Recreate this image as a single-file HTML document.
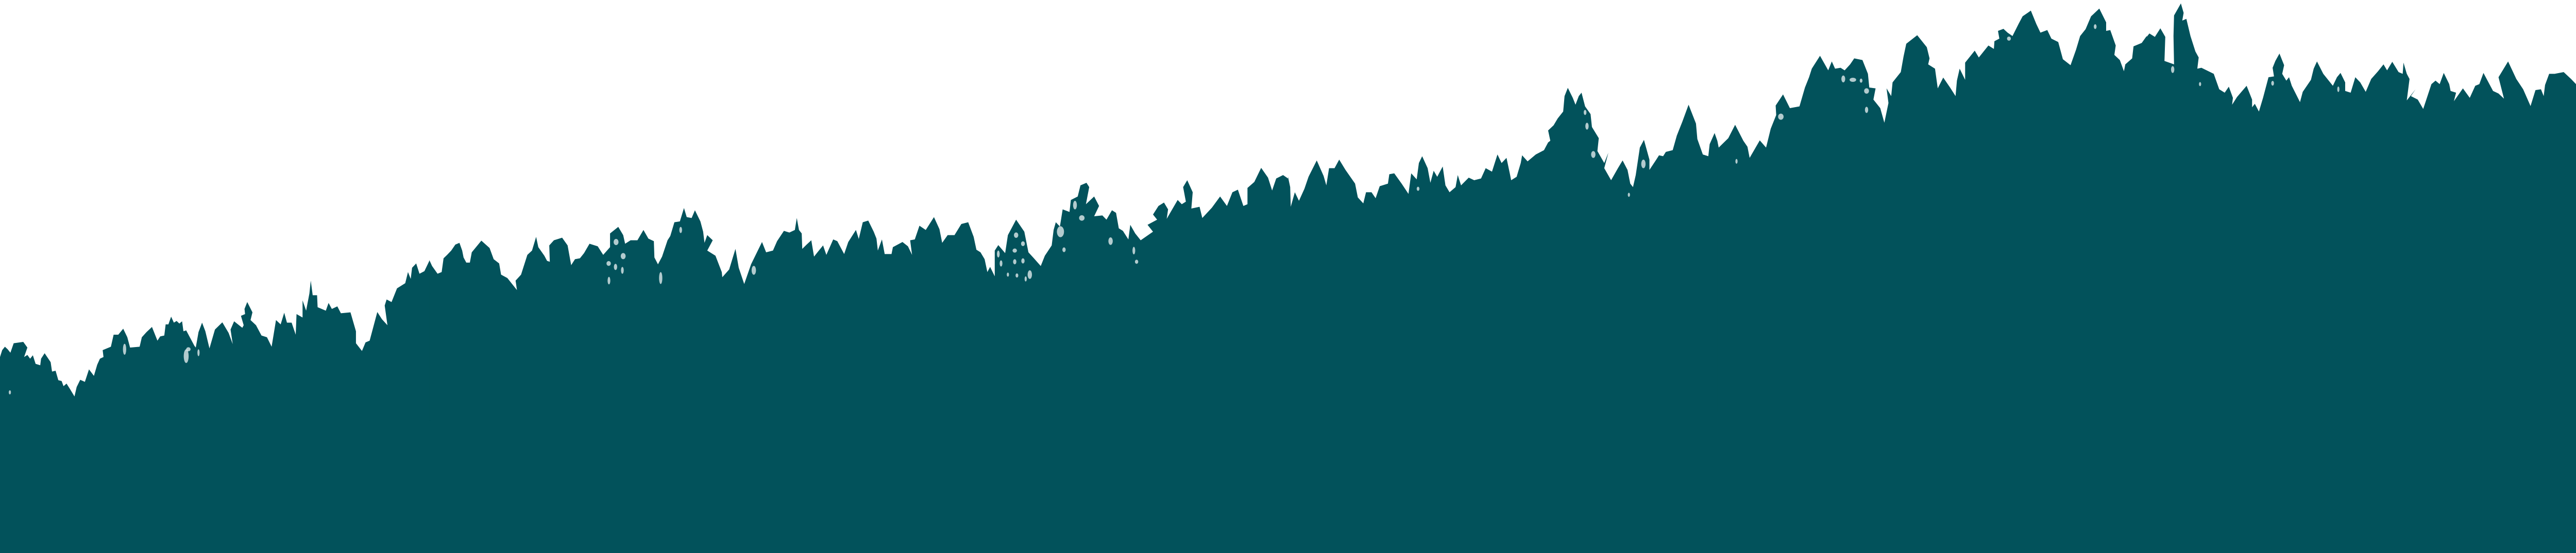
<!DOCTYPE html>
<html lang="en">
<head>
<meta charset="utf-8">
<title>Forest treeline silhouette</title>
<style>
html,body{margin:0;padding:0;background:#fff;width:100%;height:100%;overflow:hidden}
svg{display:block;position:fixed;left:0;top:0;width:100vw;height:100vh}
.f{fill:#02525b}
.h{fill:#fff;opacity:.7}
</style>
</head>
<body>
<svg xmlns="http://www.w3.org/2000/svg" viewBox="0 0 7200 1074" preserveAspectRatio="none">
<rect x="0" y="0" width="7200" height="1074" fill="#ffffff"/>
<rect x="0" y="780" width="7200" height="294" class="f"/>

<g transform="translate(0,350) scale(0.765306,0.333333)">
<polygon class="f" points="0,1030 8,990 18,970 28,985 38,1005 50,950 85,942 100,975 88,1030 100,1018 110,1040 120,1020 130,1070 147,1078 150,1040 163,1008 185,1060 190,1115 203,1110 213,1165 225,1170 232,1200 243,1185 255,1215 272,1260 280,1205 293,1163 310,1175 325,1102 343,1140 355,1075 365,1040 378,1030 375,990 405,970 415,900 432,900 450,865 465,915 475,975 510,970 518,915 535,885 555,855 575,935 585,910 600,905 605,840 615,840 625,795 635,830 645,820 655,835 665,822 670,880 680,875 695,920 710,965 715,975 725,885 738,830 750,880 765,980 785,870 812,828 835,890 850,955 842,870 855,822 885,860 890,845 880,790 895,780 893,750 903,710 922,770 915,815 935,845 955,905 975,915 992,970 1008,815 1025,840 1038,772 1048,830 1065,830 1080,900 1083,780 1105,800 1105,700 1118,760 1130,660 1135,585 1142,670 1158,670 1160,740 1190,760 1200,715 1212,750 1232,735 1245,775 1280,770 1300,880 1300,950 1322,995 1335,945 1350,935 1378,768 1395,810 1415,845 1405,730 1412,695 1430,710 1450,630 1480,600 1490,535 1500,575 1505,510 1520,485 1532,545 1550,530 1568,470 1572,510 1572,1400 0,1400"/>
<ellipse class="h" cx="455" cy="985" rx="6" ry="32"/>
<ellipse class="h" cx="680" cy="1025" rx="9" ry="40"/>
<ellipse class="h" cx="688" cy="985" rx="8" ry="12"/>
<ellipse class="h" cx="725" cy="1005" rx="4" ry="20"/>
<ellipse class="h" cx="36" cy="1236" rx="4" ry="12"/>
</g>

<g transform="translate(1200,250) scale(0.765306,0.333333)">
<polygon class="f" points="0,765 10,800 30,845 45,835 52,755 65,735 80,710 95,675 110,665 120,710 125,750 135,780 148,780 155,720 190,652 220,695 235,760 255,785 262,850 285,870 320,940 315,885 335,850 345,800 358,735 375,710 390,630 398,690 420,740 430,770 440,775 438,680 455,650 485,635 505,680 518,795 532,760 550,755 565,725 585,670 615,685 635,735 660,690 660,610 690,572 708,620 715,670 735,650 760,650 782,590 800,640 820,655 822,750 835,790 850,745 870,650 880,625 895,545 915,540 930,462 940,515 958,520 970,475 990,540 1000,600 1005,665 1015,620 1035,650 1015,710 1045,740 1068,835 1070,865 1095,820 1118,700 1130,810 1150,905 1175,790 1215,660 1230,720 1255,710 1270,655 1295,595 1315,605 1335,590 1342,520 1350,590 1360,610 1362,700 1378,675 1395,650 1405,745 1420,715 1438,680 1450,735 1475,645 1490,655 1515,730 1530,660 1558,590 1568,640 1572,680 1572,1700 0,1700"/>
<ellipse class="h" cx="708" cy="742" rx="9" ry="18"/>
<ellipse class="h" cx="682" cy="660" rx="9" ry="18"/>
<ellipse class="h" cx="655" cy="785" rx="8" ry="14"/>
<ellipse class="h" cx="680" cy="805" rx="6" ry="18"/>
<ellipse class="h" cx="705" cy="825" rx="5" ry="20"/>
<ellipse class="h" cx="656" cy="885" rx="5" ry="22"/>
<ellipse class="h" cx="845" cy="870" rx="6" ry="35"/>
<ellipse class="h" cx="1185" cy="825" rx="8" ry="26"/>
<ellipse class="h" cx="918" cy="590" rx="5" ry="18"/>
</g>

<g transform="translate(2400,200) scale(0.765306,0.333333)">
<polygon class="f" points="0,795 15,695 35,685 55,750 65,790 70,860 85,795 95,880 120,880 125,840 160,810 180,835 195,885 188,800 205,795 222,715 245,740 275,665 295,735 305,815 325,770 350,770 375,705 400,695 420,780 430,855 445,870 460,910 470,985 480,955 497,1010 497,860 510,828 535,875 545,770 575,680 605,750 620,870 640,905 665,950 680,890 705,830 712,740 720,695 735,720 745,620 770,635 775,565 800,545 810,480 832,465 842,490 830,590 860,545 878,600 860,660 890,655 905,680 925,625 940,640 950,730 965,745 985,795 992,710 1010,760 1030,800 1075,750 1055,710 1090,680 1075,650 1095,600 1115,580 1130,620 1125,675 1165,565 1180,590 1195,575 1185,490 1200,450 1220,520 1215,615 1245,605 1255,670 1290,610 1320,545 1345,600 1365,520 1385,505 1405,600 1420,590 1420,495 1445,460 1470,378 1495,435 1510,510 1525,440 1550,420 1568,440 1572,500 1572,1900 0,1900"/>
<ellipse class="h" cx="625" cy="1000" rx="8" ry="25"/>
<ellipse class="h" cx="610" cy="1025" rx="4" ry="15"/>
<ellipse class="h" cx="600" cy="920" rx="6" ry="15"/>
<ellipse class="h" cx="570" cy="925" rx="6" ry="15"/>
<ellipse class="h" cx="570" cy="860" rx="8" ry="12"/>
<ellipse class="h" cx="600" cy="820" rx="7" ry="14"/>
<ellipse class="h" cx="520" cy="935" rx="5" ry="18"/>
<ellipse class="h" cx="510" cy="880" rx="5" ry="20"/>
<ellipse class="h" cx="575" cy="770" rx="8" ry="16"/>
<ellipse class="h" cx="578" cy="1005" rx="5" ry="12"/>
<ellipse class="h" cx="545" cy="1000" rx="4" ry="12"/>
<ellipse class="h" cx="750" cy="855" rx="6" ry="14"/>
<ellipse class="h" cx="920" cy="805" rx="8" ry="22"/>
<ellipse class="h" cx="1015" cy="925" rx="6" ry="12"/>
<ellipse class="h" cx="1005" cy="860" rx="5" ry="22"/>
<ellipse class="h" cx="737" cy="750" rx="13" ry="32"/>
<ellipse class="h" cx="790" cy="595" rx="7" ry="25"/>
<ellipse class="h" cx="815" cy="670" rx="10" ry="16"/>
</g>

<g transform="translate(3600,100) scale(0.765306,0.333333)">
<polygon class="f" points="0,730 8,790 10,905 25,820 40,870 60,800 75,730 105,635 130,725 140,780 150,680 170,680 187,630 210,690 245,770 255,850 275,885 285,820 305,820 320,855 335,785 365,770 370,715 388,710 415,770 440,830 450,710 470,745 478,650 490,610 510,680 520,765 532,695 545,730 565,670 575,780 590,820 612,790 620,720 632,780 660,735 680,750 705,740 722,680 745,700 765,600 780,650 798,620 810,710 815,750 835,730 850,650 855,605 875,640 905,600 935,575 950,530 958,520 950,460 970,430 985,390 1005,350 1010,260 1022,212 1040,270 1050,310 1062,260 1072,240 1085,320 1105,365 1110,440 1135,505 1130,580 1155,650 1170,590 1155,680 1180,750 1205,680 1222,635 1240,690 1250,770 1260,790 1270,720 1285,560 1300,515 1320,630 1320,690 1345,630 1355,605 1370,610 1380,585 1405,575 1420,490 1440,410 1463,310 1490,420 1495,510 1515,600 1535,610 1540,540 1558,475 1568,520 1572,570 1572,2100 0,2100"/>
<ellipse class="h" cx="1115" cy="600" rx="8" ry="20"/>
<ellipse class="h" cx="1298" cy="655" rx="8" ry="25"/>
<ellipse class="h" cx="1085" cy="355" rx="5" ry="15"/>
<ellipse class="h" cx="1092" cy="435" rx="6" ry="20"/>
<ellipse class="h" cx="1245" cy="835" rx="4" ry="12"/>
<ellipse class="h" cx="475" cy="800" rx="5" ry="12"/>
</g>

<g transform="translate(4800,0) scale(0.765306,0.333333)">
<polygon class="f" points="0,820 5,860 40,805 65,727 95,820 110,855 118,920 155,818 178,860 195,750 215,670 213,615 240,550 265,630 300,620 320,510 335,450 345,400 375,325 405,410 418,358 430,400 450,395 465,410 485,375 500,340 530,350 550,430 555,510 578,515 570,580 595,630 610,715 625,600 618,515 635,560 640,480 670,420 680,330 690,255 730,205 765,275 775,340 770,375 795,400 805,515 825,452 850,510 870,560 875,470 885,400 905,465 905,365 940,295 955,335 990,265 1010,285 1012,240 1030,225 1025,180 1045,168 1060,190 1078,210 1100,140 1115,95 1145,62 1165,140 1180,190 1205,175 1220,225 1245,245 1262,345 1290,380 1310,290 1325,210 1345,170 1365,95 1395,50 1420,130 1420,180 1435,175 1455,265 1450,320 1470,350 1485,415 1490,375 1515,340 1520,270 1550,250 1568,210 1572,260 1572,2400 0,2400"/>
<ellipse class="h" cx="460" cy="460" rx="7" ry="20"/>
<ellipse class="h" cx="495" cy="465" rx="12" ry="12"/>
<ellipse class="h" cx="525" cy="470" rx="5" ry="12"/>
<ellipse class="h" cx="545" cy="530" rx="9" ry="16"/>
<ellipse class="h" cx="545" cy="640" rx="6" ry="18"/>
<ellipse class="h" cx="232" cy="680" rx="10" ry="18"/>
<ellipse class="h" cx="1065" cy="225" rx="7" ry="12"/>
<ellipse class="h" cx="1380" cy="155" rx="5" ry="14"/>
<ellipse class="h" cx="70" cy="940" rx="4" ry="14"/>
</g>

<g transform="translate(6000,0) scale(0.765306,0.333333)">
<polygon class="f" points="0,215 10,195 30,215 50,165 68,215 65,355 100,375 98,210 100,90 125,20 135,75 130,120 145,110 160,210 178,300 190,335 185,400 200,395 245,430 265,520 285,540 300,505 315,570 312,610 330,565 365,500 385,580 385,625 395,605 410,650 425,570 445,450 465,445 460,395 470,355 485,312 502,380 495,430 510,470 520,450 530,500 560,595 570,535 600,465 610,400 622,358 645,430 680,500 695,450 708,425 725,480 725,530 745,540 762,450 780,480 800,535 820,460 845,415 865,375 878,410 897,360 920,420 935,430 938,365 950,430 960,460 950,585 982,520 965,560 990,580 1010,635 1040,490 1055,470 1070,490 1085,425 1105,490 1110,530 1130,540 1122,590 1155,515 1180,570 1200,500 1215,490 1230,425 1265,530 1285,545 1305,575 1285,450 1320,358 1350,460 1375,520 1402,618 1420,525 1440,520 1450,560 1455,495 1470,430 1490,430 1523,420 1550,460 1568,490 1572,490 1572,2400 0,2400"/>
<ellipse class="h" cx="95" cy="405" rx="6" ry="20"/>
<ellipse class="h" cx="460" cy="485" rx="5" ry="14"/>
<ellipse class="h" cx="195" cy="490" rx="4" ry="12"/>
<ellipse class="h" cx="700" cy="520" rx="4" ry="16"/>
</g>
</svg>
</body>
</html>
